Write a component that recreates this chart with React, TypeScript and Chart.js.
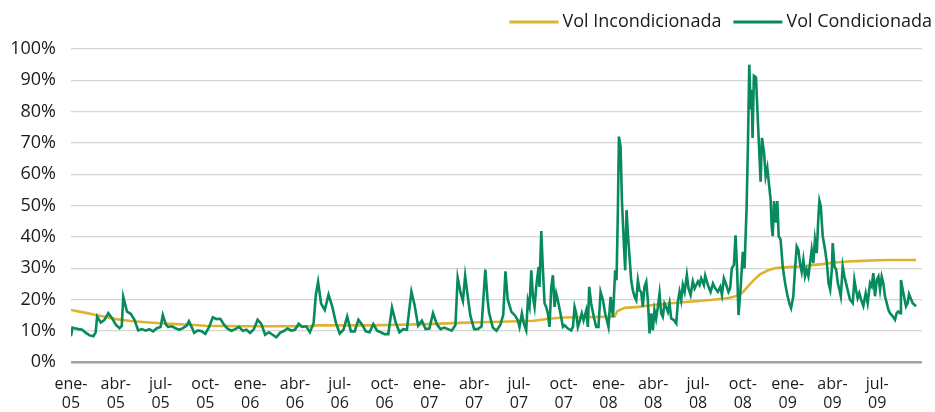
import React, { useEffect, useRef } from "react";
import { Chart, registerables } from "chart.js";

Chart.register(...registerables);

// Quarterly tick labels (x = months since ene-05)
const tickLabels = [
  "ene-05", "abr-05", "jul-05", "oct-05",
  "ene-06", "abr-06", "jul-06", "oct-06",
  "ene-07", "abr-07", "jul-07", "oct-07",
  "ene-08", "abr-08", "jul-08", "oct-08",
  "ene-09", "abr-09", "jul-09",
];
const monthsPerTick = 3;
const xMaxMonths = 57;
const yTicks = [0, 10, 20, 30, 40, 50, 60, 70, 80, 90, 100];

const seriesNames = ["Vol Incondicionada", "Vol Condicionada"];

// Unconditional volatility [month, %]
const uncondVol: [number, number][] = [
  [0, 16.6], [1, 15.7], [2, 14.7], [3, 13.7], [4, 13.1], [5, 12.7], [6, 12.4], [7, 12.1],
  [8, 11.9], [9, 11.6], [10, 11.5], [12, 11.4], [14, 11.4], [16, 11.4], [16.5, 11.7], [18, 11.7],
  [20, 11.7], [22, 11.9], [24, 12.1], [26, 12.5], [28, 12.8], [30, 13], [31, 13.2], [32, 13.8],
  [33, 14.2], [36.4, 14.5], [36.6, 16.3], [37.1, 17.3], [38, 17.6], [39, 18.2], [40, 18.7],
  [41, 19.1], [42, 19.5], [43, 19.9], [44, 20.4], [44.5, 21], [45, 22.3], [45.4, 24.5],
  [45.7, 26], [46.15, 28], [46.7, 29.3], [47.2, 30], [48, 30.3], [49, 30.6], [50, 31.1],
  [51, 31.7], [52, 32.1], [53, 32.3], [54, 32.5], [55, 32.6], [56.6, 32.6],
];

// Conditional volatility [month, %], one list per year
const cond2005: [number, number][] = [
  [0, 8.2], [0.1, 11], [0.25, 10.8], [0.5, 10.5], [0.75, 10.3], [1, 9.3], [1.25, 8.5], [1.5, 8.2],
  [1.65, 9.5], [1.75, 14.5], [2, 12.6], [2.25, 13.5], [2.5, 15.6], [2.75, 14], [3, 11.9],
  [3.25, 10.8], [3.4, 11.5], [3.5, 20.8], [3.75, 16.1], [4, 15.4], [4.25, 13.5], [4.5, 10.1],
  [4.75, 10.5], [5, 10], [5.25, 10.5], [5.5, 9.8], [5.75, 10.8], [6, 11.2], [6.15, 15],
  [6.35, 12], [6.5, 11.2], [6.75, 11.4], [7, 10.8], [7.25, 10.3], [7.5, 10.8], [7.75, 11.6],
  [7.9, 13], [8.1, 11], [8.25, 9.3], [8.5, 10.1], [8.75, 9.8], [9, 9], [9.25, 11.2], [9.5, 14.3],
  [9.75, 13.7], [10, 13.8], [10.25, 11.9], [10.5, 10.6], [10.75, 10], [11, 10.5], [11.25, 11.2],
  [11.5, 10], [11.75, 10.3],
];
const cond2006: [number, number][] = [
  [12, 9.3], [12.25, 10.5], [12.5, 13.5], [12.75, 12.2], [13, 8.7], [13.25, 9.5], [13.5, 8.7],
  [13.75, 7.9], [14, 9.3], [14.25, 9.9], [14.5, 10.7], [14.75, 10], [15, 10.3], [15.25, 12.2],
  [15.5, 11.2], [15.75, 11.4], [16, 9.5], [16.25, 12.4], [16.4, 21.5], [16.55, 25.6],
  [16.75, 18.7], [17, 16.6], [17.25, 21.5], [17.5, 17.7], [17.75, 12.4], [18, 9.1], [18.25, 10.3],
  [18.5, 14.5], [18.75, 9.8], [19, 9.8], [19.25, 13.5], [19.5, 11.9], [19.75, 9.8], [20, 9.5],
  [20.25, 12.1], [20.5, 10], [20.75, 9.5], [21, 8.9], [21.25, 8.9], [21.5, 17.4], [21.75, 12.6],
  [22, 9.5], [22.25, 10.5], [22.5, 10.3], [22.8, 22.5], [23, 18.5], [23.25, 11.6], [23.5, 13.2],
  [23.75, 10.5],
];
const cond2007: [number, number][] = [
  [24, 10.7], [24.25, 15.6], [24.5, 12.1], [24.75, 10.5], [25, 11], [25.25, 10.5], [25.5, 10],
  [25.75, 11.8], [25.9, 26.9], [26.1, 22], [26.25, 19.5], [26.4, 27.5], [26.6, 20], [26.75, 14.8],
  [27, 10.5], [27.25, 10.5], [27.5, 11.4], [27.75, 29.5], [27.9, 20], [28, 15.8], [28.25, 11],
  [28.5, 10], [28.75, 11.8], [28.95, 15], [29.1, 29], [29.25, 20], [29.5, 16], [29.75, 14.8],
  [29.93, 13.3], [30.04, 11.2], [30.2, 15.5], [30.33, 12.3], [30.49, 10.1], [30.6, 19.7],
  [30.71, 17.6], [30.83, 29.3], [30.94, 20.8], [31.05, 17.6], [31.16, 24], [31.32, 30.4],
  [31.38, 24], [31.5, 41.8], [31.6, 30.4], [31.72, 18.7], [31.83, 17.6], [31.94, 15.5],
  [32.05, 11.2], [32.17, 24], [32.28, 27.7], [32.39, 17.6], [32.5, 21.9], [32.61, 19.7],
  [32.72, 17], [32.83, 14.4], [32.95, 11.2], [33.06, 11.7], [33.28, 10.7], [33.5, 10.1],
  [33.62, 11.2], [33.73, 17.6], [33.84, 15.5], [33.95, 11.2], [34.06, 12.8], [34.21, 15.5],
  [34.33, 13.3], [34.51, 16.5], [34.62, 11.2], [34.71, 24], [34.84, 18.7], [35.02, 14.4],
  [35.18, 11.2], [35.33, 11.2], [35.47, 22.4], [35.63, 19.7], [35.78, 15.5],
];
const cond2008: [number, number][] = [
  [36, 11.2], [36.14, 20.8], [36.3, 14.4], [36.45, 29.3], [36.54, 26.1], [36.63, 48.5],
  [36.7, 72], [36.81, 68.8], [36.9, 51.7], [37.03, 37.8], [37.12, 29.3], [37.21, 48.5],
  [37.3, 41], [37.41, 33.6], [37.52, 26.1], [37.63, 22.9], [37.75, 20.8], [37.86, 19.7],
  [37.97, 26.1], [38.08, 22.9], [38.19, 22.4], [38.3, 17.6], [38.41, 24], [38.53, 25.6],
  [38.64, 19.7], [38.75, 9.1], [38.86, 15.5], [38.97, 10.1], [39.08, 16.5], [39.19, 13.8],
  [39.31, 17.6], [39.42, 21.9], [39.53, 15.5], [39.64, 14.4], [39.75, 18.7], [39.86, 17.6],
  [39.98, 16], [40.09, 18.7], [40.2, 13.9], [40.38, 13.4], [40.54, 12.3], [40.65, 19.3],
  [40.76, 22.4], [40.87, 19.7], [40.98, 24.6], [41.1, 22.4], [41.25, 27.8], [41.36, 23.5],
  [41.5, 21.4], [41.65, 25.7], [41.77, 23.5], [41.99, 25.7], [42.1, 24.6], [42.21, 26.7],
  [42.39, 24.6], [42.48, 27.6], [42.66, 24.6], [42.84, 22.4], [43, 25.1], [43.15, 23.5],
  [43.33, 22.4], [43.49, 24], [43.6, 21.4], [43.73, 26.7], [43.89, 24.6], [44.04, 22.4],
  [44.15, 23.5], [44.26, 29.9], [44.4, 31], [44.51, 40.5], [44.62, 29], [44.71, 15],
  [44.85, 23.5], [45, 35.2], [45.11, 29.9], [45.25, 49], [45.34, 69.3], [45.43, 95],
  [45.52, 80.7], [45.59, 87], [45.65, 71.6], [45.74, 91.4], [45.88, 90.9], [46.04, 73.5],
  [46.19, 57.6], [46.28, 71.6], [46.42, 66.8], [46.53, 59.3], [46.64, 62], [46.73, 57.8],
  [46.86, 51.9], [46.93, 43.4], [47, 40.2], [47.09, 51.4], [47.22, 44.5], [47.31, 51.4],
  [47.4, 40.2], [47.53, 39.1], [47.67, 30.5], [47.83, 25.2], [47.98, 21.4],
];
const cond2009: [number, number][] = [
  [48.11, 18.8], [48.23, 17.2], [48.38, 21], [48.49, 29.5], [48.61, 36.9], [48.72, 35.8],
  [48.83, 31.5], [48.94, 28.8], [49.05, 32.6], [49.16, 27.4], [49.27, 29.5], [49.39, 27.4],
  [49.5, 31.6], [49.61, 35.8], [49.72, 31.6], [49.83, 39.1], [49.95, 34.8], [50.06, 46.4],
  [50.13, 51.5], [50.22, 49.8], [50.35, 40.2], [50.51, 35.8], [50.63, 31.6], [50.74, 25.2],
  [50.85, 23.1], [50.96, 29.5], [51.02, 38], [51.14, 30.5], [51.25, 29.5], [51.36, 25.2],
  [51.47, 23.1], [51.56, 21], [51.69, 30.5], [51.8, 27.4], [51.91, 25.2], [52.07, 22],
  [52.18, 19.9], [52.36, 18.8], [52.47, 26.2], [52.58, 23.1], [52.69, 20.4], [52.8, 22],
  [52.92, 19.9], [53.07, 17.9], [53.23, 22], [53.36, 18.8], [53.52, 25.2], [53.63, 24.2],
  [53.74, 28.4], [53.85, 21], [53.97, 26.2], [54.08, 27.3], [54.19, 23.1], [54.3, 27.3],
  [54.41, 25.2], [54.52, 21], [54.64, 18.8], [54.75, 16.7], [54.86, 15.6], [55.04, 14.6],
  [55.19, 13.5], [55.3, 15.6], [55.41, 16.1], [55.53, 15.6], [55.59, 26.2], [55.71, 23.1],
  [55.82, 20.4], [55.93, 17.8], [56.04, 18.8], [56.13, 21.7], [56.24, 20.4], [56.38, 18.8],
  [56.49, 18.3], [56.6, 17.8],
];

const condVol = [...cond2005, ...cond2006, ...cond2007, ...cond2008, ...cond2009];

const YELLOW = "#dfb22e";
const GREEN = "#068a5e";
const FONT = '"Open Sans", "Noto Sans", sans-serif';
const TEXT = "#1b1b1b";

const legendPlugin = {
  id: "customLegend",
  afterDraw(chart: any) {
    const ctx = chart.ctx as CanvasRenderingContext2D;
    ctx.save();
    ctx.font = `18px ${FONT}`;
    ctx.textBaseline = "middle";
    ctx.textAlign = "left";
    const y = 22;
    const lineLen = 49;
    const gapText = 4;
    const gapItems = 12;
    let right = chart.width - 3;
    const ds = chart.data.datasets;
    for (let i = ds.length - 1; i >= 0; i--) {
      const label = ds[i].label as string;
      const w = ctx.measureText(label).width;
      const tx = right - w;
      ctx.fillStyle = TEXT;
      ctx.fillText(label, tx, y);
      const lEnd = tx - gapText;
      const lStart = lEnd - lineLen;
      ctx.strokeStyle = ds[i].borderColor;
      ctx.lineWidth = 3;
      ctx.beginPath();
      ctx.moveTo(lStart, y);
      ctx.lineTo(lEnd, y);
      ctx.stroke();
      right = lStart - gapItems;
    }
    ctx.restore();
  },
};

export default function App() {
  const ref = useRef<HTMLCanvasElement>(null);
  useEffect(() => {
    if (!ref.current) return;
    const chart = new Chart(ref.current, {
      type: "line",
      data: {
        datasets: [
          {
            label: seriesNames[0],
            data: uncondVol.map(([x, y]) => ({ x, y })),
            borderColor: YELLOW,
            backgroundColor: YELLOW,
            borderWidth: 2.6,
            pointRadius: 0,
            tension: 0,
            order: 1,
          },
          {
            label: seriesNames[1],
            data: condVol.map(([x, y]) => ({ x, y })),
            borderColor: GREEN,
            backgroundColor: GREEN,
            borderWidth: 2.6,
            pointRadius: 0,
            tension: 0,
            order: 0,
          },
        ],
      },
      options: {
        animation: false,
        responsive: true,
        maintainAspectRatio: false,
        layout: { padding: { top: 49, left: 0, right: 13, bottom: 0 } },
        plugins: {
          legend: { display: false },
          tooltip: { enabled: false },
        },
        scales: {
          x: {
            type: "linear",
            min: 0,
            max: xMaxMonths,
            afterBuildTicks: (scale: any) => {
              scale.ticks = tickLabels.map((_, i) => ({ value: i * monthsPerTick }));
            },
            afterFit: (scale: any) => {
              scale.height = 50;
            },
            grid: { display: false, drawTicks: false },
            border: { display: false },
            ticks: {
              autoSkip: false,
              maxRotation: 0,
              minRotation: 0,
              padding: 13,
              color: TEXT,
              font: { family: FONT, size: 16, lineHeight: 1.2 },
              callback: (value: any) => {
                const idx = Math.round(Number(value) / monthsPerTick);
                const lbl = tickLabels[idx];
                if (!lbl) return "";
                const parts = lbl.split("-");
                return [parts[0] + "-", parts[1]];
              },
            },
          },
          y: {
            min: 0,
            max: 100,
            afterBuildTicks: (scale: any) => {
              scale.ticks = yTicks.map((v) => ({ value: v }));
            },
            afterFit: (scale: any) => {
              scale.width = 71;
            },
            border: { display: false },
            grid: {
              drawTicks: false,
              color: (c: any) => (c.tick && c.tick.value === 0 ? "#a3a3a3" : "#d6d6d3"),
              lineWidth: (c: any) => (c.tick && c.tick.value === 0 ? 2.5 : 1.2),
            },
            ticks: {
              padding: 15,
              color: TEXT,
              font: { family: FONT, size: 18 },
              callback: (v: any) => `${v}%`,
            },
          },
        },
      },
      plugins: [legendPlugin],
    });
    return () => chart.destroy();
  }, []);
  return (
    <div style={{ position: "absolute", left: 0, top: 0, width: 935, height: 412 }}>
      <canvas ref={ref} />
    </div>
  );
}
